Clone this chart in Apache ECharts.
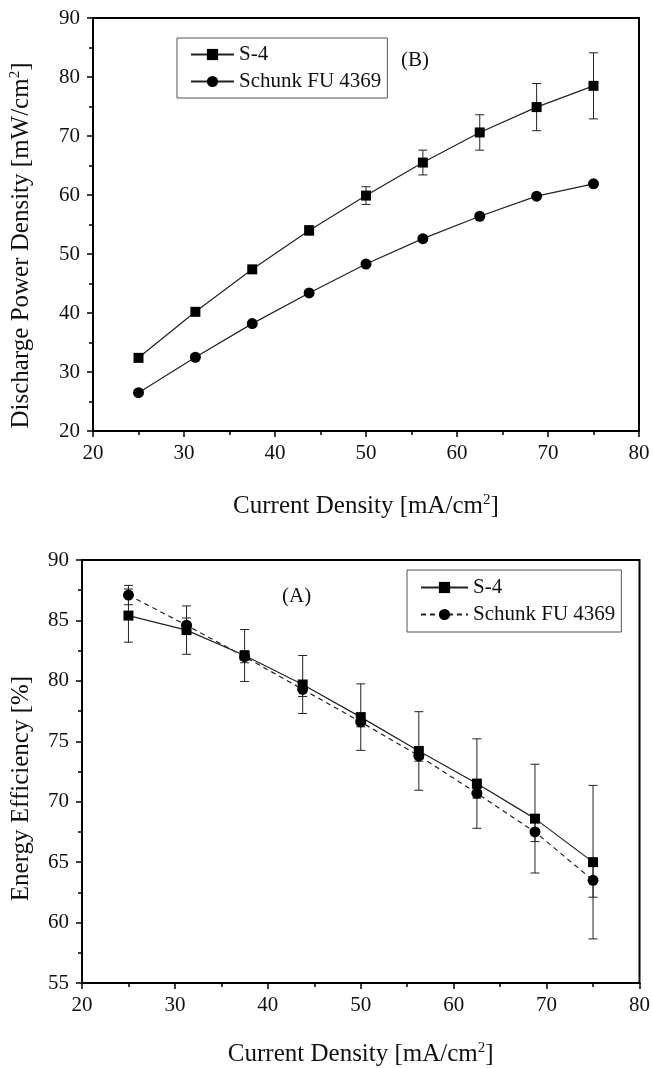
<!DOCTYPE html>
<html>
<head>
<meta charset="utf-8">
<script src="https://cdn.jsdelivr.net/npm/echarts@6/dist/echarts.min.js"></script>
<style>
html,body{margin:0;padding:0;background:#fff;}
#chart{width:653px;height:1068px;}
</style>
</head>
<body>
<div id="chart"></div>
<script>
// ---- data ----
const currentDensity = [25, 31.25, 37.5, 43.75, 50, 56.25, 62.5, 68.75, 75];
const xTicks = [20, 30, 40, 50, 60, 70, 80];
const powerYTicks = [20, 30, 40, 50, 60, 70, 80, 90];
const effYTicks = [55, 60, 65, 70, 75, 80, 85, 90];

const powerS4 = [32.4, 40.2, 47.4, 54.0, 59.9, 65.5, 70.6, 74.9, 78.5];
const powerS4Err = [0, 0, 0, 0.8, 1.5, 2.1, 3.0, 4.0, 5.6];
const powerSchunk = [26.5, 32.5, 38.2, 43.4, 48.3, 52.6, 56.4, 59.8, 61.9];

const effS4 = [85.4, 84.2, 82.1, 79.7, 77.0, 74.2, 71.5, 68.6, 65.0];
const effS4Err = [2.2, 2.0, 2.15, 2.4, 2.75, 3.25, 3.7, 4.5, 6.35];
const effSchunk = [87.1, 84.6, 82.0, 79.3, 76.6, 73.8, 70.7, 67.5, 63.5];
const effSchunkErr = [0.8, 0.6, 0.5, 0.6, 0.4, 0.45, 0.4, 0.8, 1.4];

const seriesNames = ['S-4', 'Schunk FU 4369'];
const panelLabels = ['(B)', '(A)'];

// ---- chart ----
const FONT = 'Liberation Serif';
const chart = echarts.init(document.getElementById('chart'), null, {renderer: 'canvas'});

function pairs(xs, ys) { return xs.map((x, i) => [x, ys[i]]); }
function triples(xs, ys, es) { return xs.map((x, i) => [x, ys[i], es[i]]); }

function errRender(params, api) {
  const x = api.value(0), y = api.value(1), e = api.value(2);
  if (!e) return null;
  const top = api.coord([x, y + e]);
  const bot = api.coord([x, y - e]);
  const hw = 4.5;
  const st = {stroke: '#222', lineWidth: 1};
  return {
    type: 'group',
    children: [
      {type: 'line', shape: {x1: top[0], y1: top[1], x2: bot[0], y2: bot[1]}, style: st},
      {type: 'line', shape: {x1: top[0] - hw, y1: top[1], x2: top[0] + hw, y2: top[1]}, style: st},
      {type: 'line', shape: {x1: bot[0] - hw, y1: bot[1], x2: bot[0] + hw, y2: bot[1]}, style: st}
    ]
  };
}

function xAxisDef(gridIndex, gap) {
  return {
    type: 'value', gridIndex: gridIndex, min: 20, max: 80, interval: 10,
    name: '{a|Current Density [mA/cm}{s|2}{a|]}',
    nameLocation: 'middle', nameGap: gap,
    nameTextStyle: {
      rich: {
        a: {fontFamily: FONT, fontSize: 25, color: '#111'},
        s: {fontFamily: FONT, fontSize: 15, color: '#111', verticalAlign: 'top', padding: [0, 0, 12, 0]}
      }
    },
    axisLine: {show: true, onZero: false, lineStyle: {color: '#000', width: 2}},
    axisTick: {show: true, inside: false, length: 6, lineStyle: {color: '#000', width: 1.5}},
    minorTick: {show: true, splitNumber: 2, length: 4, lineStyle: {color: '#000', width: 1.5}},
    splitLine: {show: false},
    axisLabel: {fontFamily: FONT, fontSize: 21, color: '#111', margin: 12}
  };
}

function yAxisDef(gridIndex, min, max, interval, nameRich, gap, pad) {
  return {
    type: 'value', gridIndex: gridIndex, min: min, max: max, interval: interval,
    name: nameRich,
    nameLocation: 'middle', nameGap: gap,
    nameTextStyle: {
      padding: pad,
      rich: {
        a: {fontFamily: FONT, fontSize: 25, color: '#111'},
        s: {fontFamily: FONT, fontSize: 15, color: '#111', verticalAlign: 'top', padding: [0, 0, 12, 0]}
      }
    },
    axisLine: {show: true, onZero: false, lineStyle: {color: '#000', width: 2}},
    axisTick: {show: true, inside: false, length: 6, lineStyle: {color: '#000', width: 1.5}},
    minorTick: {show: true, splitNumber: 2, length: 4, lineStyle: {color: '#000', width: 1.5}},
    splitLine: {show: false},
    axisLabel: {fontFamily: FONT, fontSize: 21, color: '#111', margin: 13}
  };
}

const option = {
  backgroundColor: '#fff',
  animation: false,
  grid: [
    {left: 92, top: 18, width: 547, height: 413, show: true, borderColor: '#000', borderWidth: 2, backgroundColor: 'transparent'},
    {left: 82, top: 560, width: 560, height: 423, show: true, borderColor: '#000', borderWidth: 2, backgroundColor: 'transparent'}
  ],
  xAxis: [xAxisDef(0, 62), xAxisDef(1, 58)],
  yAxis: [
    yAxisDef(0, 20, 90, 10, '{a|Discharge Power Density [mW/cm}{s|2}{a|]}', 58, [0, 42, 0, 0]),
    yAxisDef(1, 55, 90, 5, '{a|Energy Efficiency [%]}', 48, [0, 34, 0, 0])
  ],
  legend: [
    {
      left: 177, top: 38, orient: 'vertical',
      data: [{name: seriesNames[0]}, {name: seriesNames[1]}],
      itemWidth: 43, itemHeight: 14, itemGap: 6,
      padding: [6, 6, 6, 13],
      borderColor: '#555', borderWidth: 1,
      textStyle: {fontFamily: FONT, fontSize: 21, color: '#111'}
    },
    {
      left: 407, top: 570, orient: 'vertical',
      data: [{name: seriesNames[0]}, {name: seriesNames[1], lineStyle: {type: [5, 4]}}],
      itemWidth: 47, itemHeight: 14, itemGap: 6,
      padding: [7, 6, 7, 13],
      borderColor: '#555', borderWidth: 1,
      textStyle: {fontFamily: FONT, fontSize: 21, color: '#111'}
    }
  ],
  graphic: [
    {type: 'text', left: 401, top: 50, style: {text: panelLabels[0], font: '21px "Liberation Serif"', fill: '#111'}},
    {type: 'text', left: 282, top: 586, style: {text: panelLabels[1], font: '21px "Liberation Serif"', fill: '#111'}}
  ],
  series: [
    // top chart
    {type: 'custom', xAxisIndex: 0, yAxisIndex: 0, renderItem: errRender, data: triples(currentDensity, powerS4, powerS4Err), z: 1, silent: true},
    {name: seriesNames[0], type: 'line', xAxisIndex: 0, yAxisIndex: 0, data: pairs(currentDensity, powerS4),
      symbol: 'rect', symbolSize: 10, itemStyle: {color: '#000'}, lineStyle: {color: '#222', width: 1.2}, z: 3},
    {name: seriesNames[1], type: 'line', xAxisIndex: 0, yAxisIndex: 0, data: pairs(currentDensity, powerSchunk),
      symbol: 'circle', symbolSize: 11, itemStyle: {color: '#000'}, lineStyle: {color: '#222', width: 1.2}, z: 3},
    // bottom chart
    {type: 'custom', xAxisIndex: 1, yAxisIndex: 1, renderItem: errRender, data: triples(currentDensity, effS4, effS4Err), z: 1, silent: true},
    {type: 'custom', xAxisIndex: 1, yAxisIndex: 1, renderItem: errRender, data: triples(currentDensity, effSchunk, effSchunkErr), z: 1, silent: true},
    {name: seriesNames[0], type: 'line', xAxisIndex: 1, yAxisIndex: 1, data: pairs(currentDensity, effS4),
      symbol: 'rect', symbolSize: 10, itemStyle: {color: '#000'}, lineStyle: {color: '#222', width: 1.2}, z: 3},
    {name: seriesNames[1], type: 'line', xAxisIndex: 1, yAxisIndex: 1, data: pairs(currentDensity, effSchunk),
      symbol: 'circle', symbolSize: 11, itemStyle: {color: '#000'}, lineStyle: {color: '#222', width: 1.2, type: [5, 4]}, z: 3}
  ]
};
chart.setOption(option);
</script>
</body>
</html>
